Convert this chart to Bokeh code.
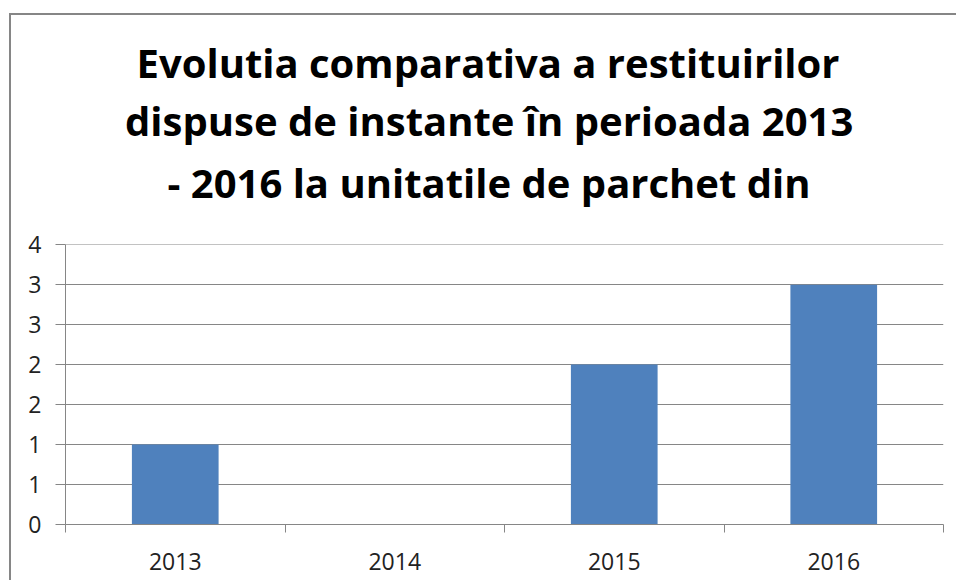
import numpy as np
from bokeh.plotting import figure
from bokeh.models import FixedTicker, Title, Range1d
from bokeh.embed import file_html
from bokeh.resources import INLINE

years = ["2013", "2014", "2015", "2016"]
values = [1, 0, 2, 3]
y_ticks = [0, 0.5, 1, 1.5, 2, 2.5, 3, 3.5]
y_tick_labels = ["0", "1", "1", "2", "2", "3", "3", "4"]
title_lines = [
    "Evolutia comparativa a restituirilor",
    "dispuse de instante în perioada 2013",
    "- 2016 la unitatile de parchet din",
]

W, H = 947, 567
GRAY = "#868686"
TXT = "#222222"
FONT = "Open Sans"

x_pos = list(np.arange(len(years)) + 0.5)

p = figure(width=W, height=H, output_backend="svg", toolbar_location=None,
           title=None,
           x_range=Range1d(0, len(years)), y_range=Range1d(0, y_ticks[-1] + 0.002),
           min_border_left=54, min_border_right=15, min_border_top=229,
           min_border_bottom=58)
p.styles = {"margin-left": "9px", "margin-top": "13px",
            "border-left": "2px solid " + GRAY, "border-top": "2px solid " + GRAY}
p.outline_line_color = None
p.background_fill_color = "white"
p.border_fill_color = "white"

p.vbar(x=x_pos, top=values, width=0.395, fill_color="#4F81BD", line_color=None)

# y axis
p.yaxis.ticker = FixedTicker(ticks=y_ticks)
p.yaxis.major_label_overrides = dict(zip(y_ticks, y_tick_labels))
p.yaxis.axis_line_color = GRAY
p.yaxis.major_tick_line_color = GRAY
p.yaxis.major_tick_out = 10
p.yaxis.major_tick_in = 0
p.yaxis.minor_tick_line_color = None
p.yaxis.major_label_standoff = 14
p.yaxis.major_label_text_font = FONT
p.yaxis.major_label_text_font_size = "23px"
p.yaxis.major_label_text_color = TXT

# x axis
p.xaxis.ticker = FixedTicker(ticks=x_pos, minor_ticks=list(range(len(years) + 1)))
p.xaxis.major_label_overrides = dict(zip(x_pos, years))
p.xaxis.axis_line_color = GRAY
p.xaxis.major_tick_line_color = None
p.xaxis.major_tick_out = 0
p.xaxis.major_tick_in = 0
p.xaxis.minor_tick_line_color = GRAY
p.xaxis.minor_tick_out = 8
p.xaxis.minor_tick_in = 0
p.xaxis.major_label_standoff = 20
p.xaxis.major_label_text_font = FONT
p.xaxis.major_label_text_font_size = "23px"
p.xaxis.major_label_text_color = TXT

p.xgrid.grid_line_color = None
p.ygrid.ticker = FixedTicker(ticks=y_ticks)
p.ygrid.grid_line_color = GRAY
p.ygrid.grid_line_width = 1

# spacer between the title block and the plot area
p.add_layout(Title(text="\u00a0", text_font_size="2px", standoff=30), "above")

# title: three stacked lines, added bottom line first
title_offsets = [71, 59.5, 102]
title_standoffs = [-6.5, 7.5, 1.5]
for line, off, so in reversed(list(zip(title_lines, title_offsets, title_standoffs))):
    p.add_layout(Title(text=line, align="left", offset=off, standoff=so,
                       text_font=FONT, text_font_style="bold",
                       text_font_size="40px", text_color="#000000"), "above")

open("out.html", "w").write(file_html(p, INLINE))
